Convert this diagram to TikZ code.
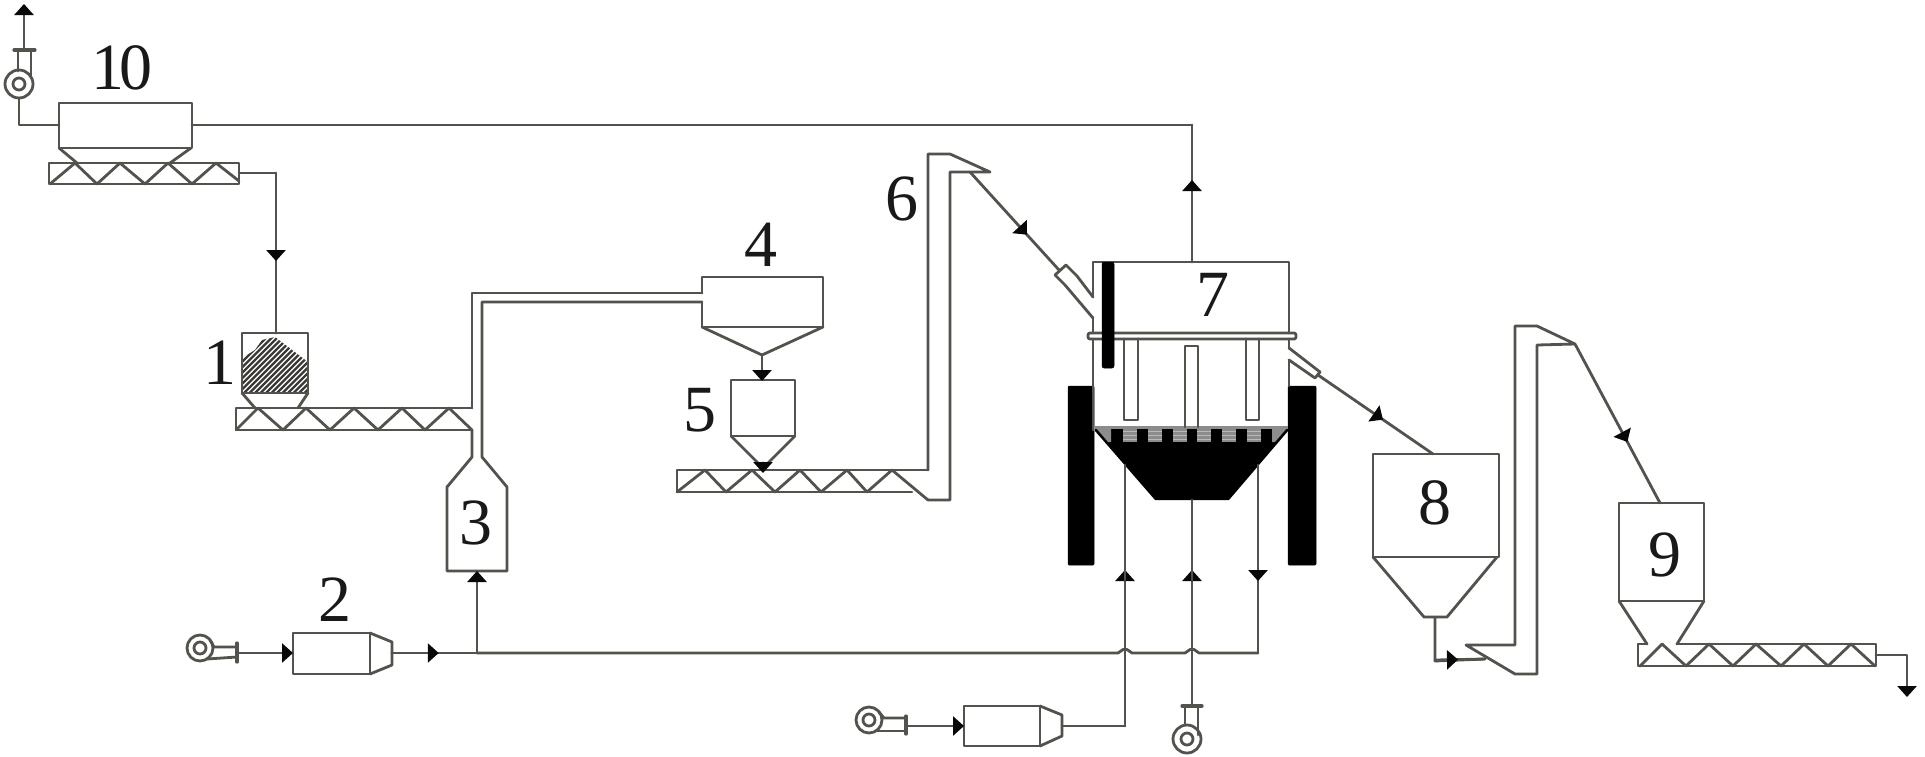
\documentclass[tikz,border=0pt]{standalone}
\usepackage{fontspec}
\setmainfont{Liberation Serif}
\usetikzlibrary{arrows.meta,decorations.markings}
\definecolor{ln}{rgb}{0.33,0.32,0.30}
\definecolor{tipc}{rgb}{0.03,0.03,0.03}
\tikzset{
  pipe/.style={draw=ln,line width=2.8pt,line join=round,line cap=round},
  blk/.style={fill=black,draw=black,line width=.5pt,rounded corners=1pt},
  lab/.style={font=\fontsize{66}{66}\selectfont,text=black!90,inner sep=0pt},
  flowmark/.style={postaction={decorate},decoration={markings,mark=at position #1 with {\arrow[tipc]{Triangle[length=11pt,width=19pt]}}}},
  tipend/.style={-{Triangle[length=11pt,width=19pt,color=tipc]}},
}
\begin{document}
\begin{tikzpicture}[x=1pt,y=-1pt]
\useasboundingbox (0,0) rectangle (1925,756);
\fill[white] (0,0) rectangle (1925,756);
% key coordinates
\coordinate (fanTopOut) at (24,50);
\coordinate (fanTopTip) at (24,4);
\coordinate (b10L) at (59,125);
\coordinate (b10R) at (192,125);
\coordinate (s10E) at (239,173);
\coordinate (b1T) at (276,333);
\coordinate (b7T) at (1192,262);
\coordinate (bend7) at (1192,125);
\coordinate (e1out) at (970,172);
\coordinate (n7in) at (1059,270);
\coordinate (n7out) at (1318,375);
\coordinate (b8T) at (1433,454);
\coordinate (b8B) at (1435,617);
\coordinate (e2in) at (1485,659);
\coordinate (e2out) at (1575,344);
\coordinate (b9T) at (1660,503);
\coordinate (s9E) at (1876,655);
\coordinate (end9) at (1907,697);
\coordinate (b4B) at (762,355);
\coordinate (b5T) at (762,381);
\coordinate (b5B) at (763,468);
\coordinate (s5T) at (763,473);
\coordinate (b2out) at (392,653);
\coordinate (main3) at (477,653);
\coordinate (b3B) at (477,571);
\coordinate (mainE) at (1258,653);
\coordinate (r1) at (1125,465);
\coordinate (r2) at (1192,500);
\coordinate (r3) at (1258,465);
\coordinate (b2in) at (293,653);
\coordinate (fan2) at (237,653);
\coordinate (b11in) at (964,726);
\coordinate (fan11) at (906,726);
\coordinate (b11out) at (1062,726);
\coordinate (fan12) at (1192,706);

% Black parts of furnace
\fill[blk] (1068,386) rectangle (1094,565);
\fill[blk] (1288,386) rectangle (1316,565);
\fill[black] (1095,427) -- (1288,427) -- (1288,431) -- (1229,500) -- (1155,500) -- (1095,431) -- cycle;
% Grate windows
\fill[gray!90] (1095,425.5) rectangle (1288,429);
\foreach \gx in {1123,1148,1173,1197,1222,1247}{
  \fill[gray!90] (\gx,428) rectangle ++(13.5,14);
  \foreach \gy in {431,435,439}{\draw[gray!55,line width=.9pt] (\gx,\gy) -- ++(13.5,0);}
}
\fill[gray!90] (1096,428) -- (1111,428) -- (1111,442) -- (1108,442) -- cycle;
\fill[gray!90] (1272,428) -- (1287,428) -- (1275,442) -- (1272,442) -- cycle;

% Furnace body
\draw[pipe] (1093,297) -- (1093,262) -- (1289,262) -- (1289,333);
\draw[pipe] (1093,318) -- (1093,333);
\draw[pipe] (1093,339) -- (1093,430);
\draw[pipe] (1289,339) -- (1289,348);
\draw[pipe] (1289,360) -- (1289,386);
\draw[pipe,rounded corners=2pt] (1088,333) rectangle (1296,339);
\draw[pipe] (1124,339) -- (1124,420) -- (1138,420) -- (1138,339);
\draw[pipe] (1246,339) -- (1246,420) -- (1259,420) -- (1259,339);
\draw[pipe] (1185,427) -- (1185,346) -- (1198,346) -- (1198,427);
\fill[blk,rounded corners=2pt] (1102,262) rectangle (1114,368);
% Inlet nozzle
\draw[pipe] (1055,275) -- (1066,265) -- (1077,276) -- (1093,297);
\draw[pipe] (1055,275) -- (1065,285) -- (1093,318);
% Outlet nozzle
\draw[pipe] (1289,348) -- (1320,372) -- (1315,378) -- (1289,360);

% Conveyors / screws
\draw[pipe] (49,163) rectangle (239,184);
\draw[pipe] (50,184) -- (75,163) -- (97,184) -- (120,163) -- (145,184) -- (168,163) -- (192,184) -- (216,163) -- (239,181);
\draw[pipe] (472,408) -- (236,408) -- (236,430) -- (472,430);
\draw[pipe] (236,430) -- (258,408) -- (283,430) -- (306,408) -- (330,430) -- (354,408) -- (378,430) -- (402,408) -- (425,430) -- (449,408) -- (472,430);
\draw[pipe] (912,492) -- (677,492) -- (677,470) -- (928,470);
\draw[pipe] (677,492) -- (705,470) -- (726,492) -- (752,470) -- (775,492) -- (800,470) -- (821,492) -- (847,470) -- (867,492) -- (892,470) -- (928,500);
\draw[pipe] (1647,644) -- (1638,644) -- (1638,666) -- (1876,666) -- (1876,644) -- (1677,644);
\draw[pipe] (1640,666) -- (1662,644) -- (1686,666) -- (1709,644) -- (1733,666) -- (1756,644) -- (1781,666) -- (1804,644) -- (1828,666) -- (1851,644) -- (1875,666);

% Bin 10
\draw[pipe] (59,103) rectangle (192,148);
\draw[pipe] (59,148) -- (77,163);
\draw[pipe] (191,148) -- (170,163);
% Hopper 1
\begin{scope}
\clip (242,358) -- (255,350) -- (262,340) -- (275,337) -- (308,362) -- (308,393) -- (242,393) -- cycle;
\foreach \h in {-50,-44.5,...,90}{\draw[ln!70!black,line width=2.4pt] (232+\h,400) -- (232+\h+80,320);}
\end{scope}
\draw[pipe] (242,393) -- (242,333) -- (308,333) -- (308,393) -- cycle;
\draw[pipe] (242,393) -- (255,408);
\draw[pipe] (308,393) -- (298,408);
% Riser and vessel 3
\draw[pipe] (472,408) -- (472,293) -- (702,293);
\draw[pipe] (472,430) -- (472,457) -- (447,487) -- (447,571) -- (507,571) -- (507,487) -- (482,457) -- (482,302) -- (702,302);
% Bin 4
\draw[pipe] (702,293) -- (702,277) -- (823,277) -- (823,327) -- (702,327) -- (702,302);
\draw[pipe] (702,327) -- (762,355) -- (823,327);
% Bin 5
\draw[pipe] (731,380) rectangle (795,436);
\draw[pipe] (731,436) -- (763,468) -- (795,436);
% Elevator 1
\draw[pipe] (928,470) -- (928,154) -- (950,154) -- (990,172) -- (950,172) -- (950,500) -- (928,500);
% Bin 8
\draw[pipe] (1373,454) rectangle (1499,557);
\draw[pipe] (1373,557) -- (1424,617) -- (1447,617) -- (1497,557);
% Elevator 2
\draw[pipe] (1466,645) -- (1515,645) -- (1515,326) -- (1537,326) -- (1575,344) -- (1537,345) -- (1537,674) -- (1515,674) -- cycle;
% Bin 9
\draw[pipe] (1619,503) rectangle (1704,601);
\draw[pipe] (1619,601) -- (1647,644);
\draw[pipe] (1704,601) -- (1677,644);

% Blowers
\draw[pipe] (293,633) rectangle (370,674);
\draw[pipe] (370,633) -- (392,642) -- (392,665) -- (370,674);
\draw[pipe] (964,706) rectangle (1040,746);
\draw[pipe] (1040,706) -- (1062,715) -- (1062,736) -- (1040,746);

% Fans
\draw[pipe] (19,84) circle (14);
\draw[pipe] (19,84) circle (6);
\draw[pipe] (18,50) -- (18,71);
\draw[pipe] (31,50) -- (31,78);
\draw[pipe,line width=3.2pt] (14,50) -- (35,50);
\draw[pipe] (19,98) -- (19,125) -- (b10L);
%
\draw[pipe] (200,648) circle (13);
\draw[pipe] (200,648) circle (6);
\draw[pipe] (210,640) -- (214,647) -- (237,647);
\draw[pipe] (207,659) -- (237,657);
\draw[pipe,line width=3.2pt] (237,643) -- (237,662);
%
\draw[pipe] (869,720) circle (13);
\draw[pipe] (869,720) circle (6);
\draw[pipe] (879,712) -- (884,718) -- (906,718);
\draw[pipe] (877,731) -- (906,731);
\draw[pipe,line width=3.2pt] (906,716) -- (906,734);
%
\draw[pipe] (1187,739) circle (14);
\draw[pipe] (1187,739) circle (6);
\draw[pipe] (1185,706) -- (1185,725);
\draw[pipe] (1198,706) -- (1198,735);
\draw[pipe,line width=3.2pt] (1182,706) -- (1202,706);

% Connectors
\draw[pipe,tipend] (fanTopOut) -- (fanTopTip);
\draw[pipe] (b10R) -- (bend7);
\draw[pipe] (bend7) -- (1192,190);
\draw[pipe,tipend] (b7T) -- (1192,180);
\draw[pipe] (s10E) -- (276,173) -- (b1T);
\draw[pipe,flowmark=0.55] (276,173) -- (b1T);
\draw[pipe,flowmark=0.64] (e1out) -- (n7in);
\draw[pipe,flowmark=0.565] (n7out) -- (b8T);
\draw[pipe] (b8B) -- (1435,661) -- (e2in);
\draw[pipe,flowmark=0.46] (1435,660) -- (e2in);
\draw[pipe,flowmark=0.616] (e2out) -- (b9T);
\draw[pipe] (s9E) -- (1907,655) -- (1907,687);
\draw[pipe,tipend] (1907,687) -- (end9);
\draw[pipe,tipend] (b4B) -- (b5T);
\draw[pipe,tipend] (b5B) -- (s5T);
\draw[pipe] (b2out) -- (main3);
\draw[pipe,flowmark=0.55] (b2out) -- (main3);
\draw[pipe,tipend] (main3) -- (b3B);
\draw[pipe] (main3) -- (1118,653) -- (1123,649.5) -- (1127,649.5) -- (1132,653) -- (1185,653) -- (1190,649.5) -- (1194,649.5) -- (1199,653) -- (mainE);
\draw[pipe,-{Triangle[length=11pt,width=19pt,color=tipc]}] (1125,726) -- (1125,570);
\draw[pipe] (b11out) -- (1125,726);
\draw[pipe] (1125,580) -- (r1);
\draw[pipe,-{Triangle[length=11pt,width=19pt,color=tipc]}] (fan12) -- (1192,570);
\draw[pipe] (1192,580) -- (r2);
\draw[pipe] (mainE) -- (1258,575);
\draw[pipe,tipend] (r3) -- (1258,581);
\draw[pipe,tipend] (fan2) -- (b2in);
\draw[pipe,tipend] (fan11) -- (b11in);

% Labels
\node[lab] (l10) at (122,68) {1\kern-5pt 0};
\node[lab] (l1) at (220,363) {1};
\node[lab] (l2) at (335,600) {2};
\node[lab] (l3) at (476,523) {3};
\node[lab] (l4) at (761,245) {4};
\node[lab] (l5) at (700,410) {5};
\node[lab] (l6) at (902,199) {6};
\node[lab] (l7) at (1213,295) {7};
\node[lab] (l8) at (1435,503) {8};
\node[lab] (l9) at (1665,555) {9};
\end{tikzpicture}
\end{document}
